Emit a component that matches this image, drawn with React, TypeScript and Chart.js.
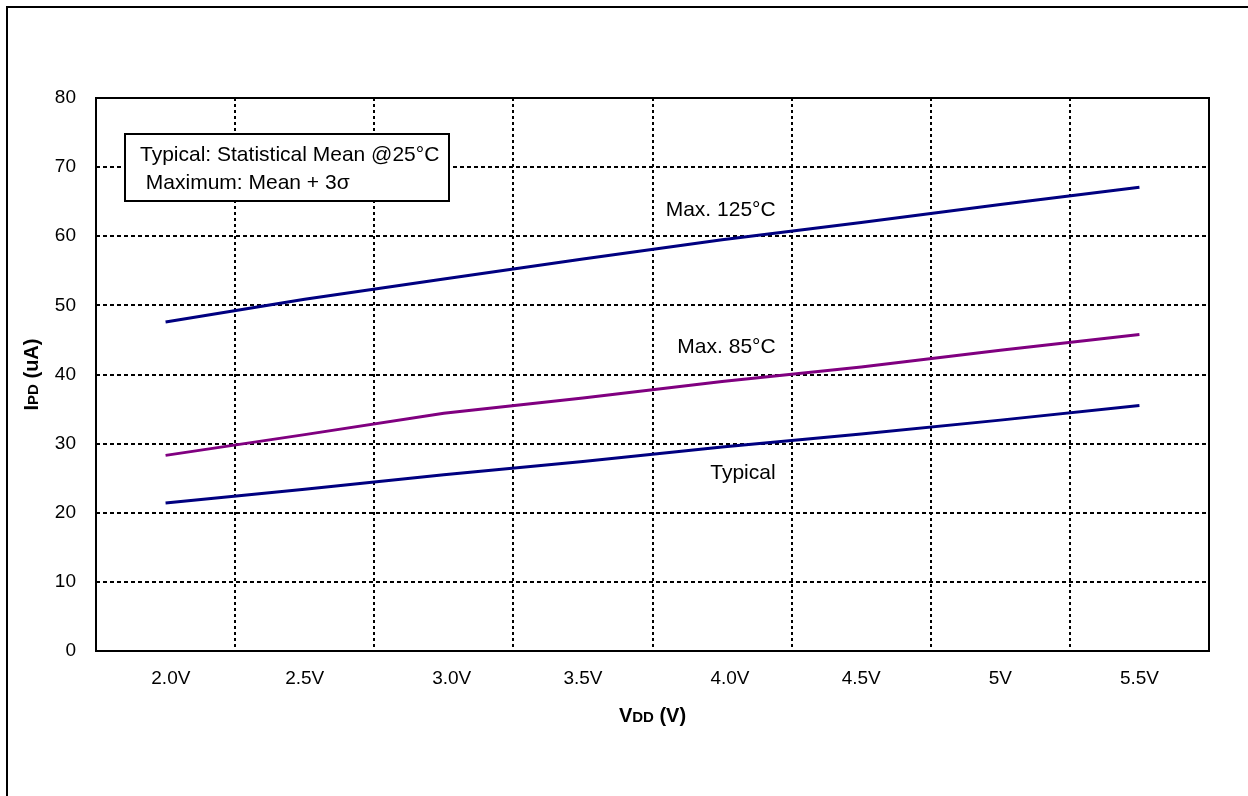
import React, { useEffect, useRef } from "react";
import { Chart, registerables } from "chart.js";

Chart.register(...registerables);

const categories = ["  2.0V", "2.5V", "   3.0V", "3.5V", "   4.0V", "4.5V", "5V", "5.5V"];
const max125 = [47.6, 50.9, 53.8, 56.7, 59.5, 62.0, 64.6, 67.1];
const max85 = [28.3, 31.3, 34.4, 36.6, 39.0, 41.1, 43.5, 45.8];
const typical = [21.4, 23.4, 25.5, 27.4, 29.5, 31.4, 33.4, 35.5];
const yMin = 0;
const yMax = 80;
const yStep = 10;

const seriesLabels = ["Max. 125°C", "Max. 85°C", "Typical"];
const seriesLabelValues = [63.8, 44.0, 25.75];
const noteLines = ["Typical: Statistical Mean @25°C", " Maximum: Mean + 3σ"];

const FONT = "'Liberation Sans', Arial, Helvetica, sans-serif";

function drawParts(
  ctx: CanvasRenderingContext2D,
  parts: { t: string; size: number }[],
  cx: number,
  baseline: number
) {
  let total = 0;
  for (const p of parts) {
    ctx.font = `bold ${p.size}px ${FONT}`;
    total += ctx.measureText(p.t).width;
  }
  let x = cx - total / 2;
  ctx.textAlign = "left";
  ctx.textBaseline = "alphabetic";
  for (const p of parts) {
    ctx.font = `bold ${p.size}px ${FONT}`;
    ctx.fillText(p.t, x, baseline);
    x += ctx.measureText(p.t).width;
  }
}

const decorPlugin = {
  id: "decor",
  afterDraw(chart: any) {
    const { ctx, chartArea, scales } = chart;
    const { left, right, top, bottom } = chartArea;
    const xs = scales.x;
    const ys = scales.y;
    ctx.save();
    // plot frame
    ctx.strokeStyle = "#000";
    ctx.lineWidth = 2;
    ctx.setLineDash([]);
    ctx.strokeRect(left, top, right - left, bottom - top);

    // note box
    const bx = left + 29;
    const by = top + 36;
    const bw = 324;
    const bh = 67;
    ctx.fillStyle = "#fff";
    ctx.fillRect(bx, by, bw, bh);
    ctx.strokeRect(bx, by, bw, bh);
    ctx.fillStyle = "#000";
    ctx.font = `21px ${FONT}`;
    ctx.textAlign = "left";
    ctx.textBaseline = "middle";
    ctx.fillText(noteLines[0], bx + 15, by + 21);
    ctx.fillText(noteLines[1], bx + 15, by + 49);

    // series labels
    const xRight = (xs.getPixelForValue(4) + xs.getPixelForValue(5)) / 2 - 16;
    ctx.textAlign = "right";
    ctx.textBaseline = "middle";
    ctx.font = `21px ${FONT}`;
    seriesLabels.forEach((s, i) => {
      ctx.fillText(s, xRight, ys.getPixelForValue(seriesLabelValues[i]));
    });

    // x title
    ctx.fillStyle = "#000";
    drawParts(
      ctx,
      [
        { t: "V", size: 20 },
        { t: "DD", size: 15 },
        { t: " (V)", size: 20 },
      ],
      (left + right) / 2,
      bottom + 71
    );

    // y title
    ctx.save();
    ctx.translate(38, (top + bottom) / 2);
    ctx.rotate(-Math.PI / 2);
    drawParts(
      ctx,
      [
        { t: "I", size: 20 },
        { t: "PD", size: 15 },
        { t: " (uA)", size: 20 },
      ],
      0,
      0
    );
    ctx.restore();
    ctx.restore();
  },
};

export default function App() {
  const ref = useRef<HTMLCanvasElement | null>(null);
  useEffect(() => {
    if (!ref.current) return;
    Chart.defaults.font.family = FONT;
    const chart = new Chart(ref.current, {
      type: "line",
      data: {
        labels: categories,
        datasets: [
          {
            label: "Max. 125°C",
            data: max125,
            borderColor: "#000080",
            backgroundColor: "#000080",
            borderWidth: 3,
            pointRadius: 0,
            tension: 0,
          },
          {
            label: "Max. 85°C",
            data: max85,
            borderColor: "#800080",
            backgroundColor: "#800080",
            borderWidth: 3,
            pointRadius: 0,
            tension: 0,
          },
          {
            label: "Typical",
            data: typical,
            borderColor: "#000080",
            backgroundColor: "#000080",
            borderWidth: 3,
            pointRadius: 0,
            tension: 0,
          },
        ],
      },
      options: {
        responsive: false,
        animation: false,
        layout: { padding: { left: 0, top: 98, right: 39, bottom: 0 } },
        plugins: {
          legend: { display: false },
          tooltip: { enabled: false },
          title: { display: false },
        },
        scales: {
          x: {
            type: "category",
            offset: true,
            grid: {
              offset: true,
              color: "#000",
              lineWidth: 2,
              drawTicks: false,
            },
            border: { display: false, dash: [3, 3] },
            ticks: {
              color: "#000",
              font: { size: 19, family: FONT },
              padding: 16,
              maxRotation: 0,
              autoSkip: false,
            },
            afterFit(scale: any) {
              scale.height = 145;
            },
          },
          y: {
            min: yMin,
            max: yMax,
            grid: {
              color: "#000",
              lineWidth: 2,
              drawTicks: false,
            },
            border: { display: false, dash: [4, 3] },
            ticks: {
              stepSize: yStep,
              color: "#000",
              font: { size: 19, family: FONT },
              padding: 20,
            },
            afterFit(scale: any) {
              scale.width = 96;
            },
          },
        },
      },
      plugins: [decorPlugin],
    } as any);
    return () => chart.destroy();
  }, []);

  return (
    <>
      <div
        style={{
          position: "fixed",
          left: 6,
          top: 6,
          width: 1242,
          height: 790,
          borderLeft: "2px solid #000",
          borderTop: "2px solid #000",
          boxSizing: "border-box",
        }}
      />
      <canvas
        ref={ref}
        width={1248}
        height={796}
        style={{ position: "fixed", left: 0, top: 0, width: 1248, height: 796 }}
      />
    </>
  );
}
